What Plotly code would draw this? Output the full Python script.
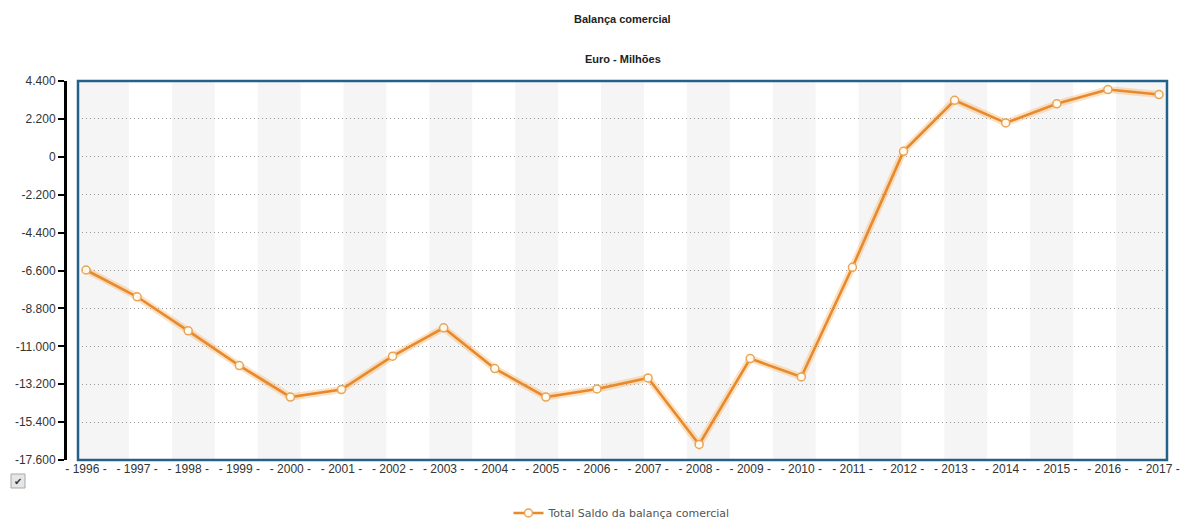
import plotly.graph_objects as go

# Trade balance, EUR millions
years = list(range(1996, 2018))
saldo = [-6571, -8125, -10103, -12120, -13945, -13514, -11576, -9929, -12292,
         -13945, -13479, -12839, -16698, -11710, -12781, -6414, 315, 3283,
         1967, 3073, 3905, 3614]

y_ticks = [4400, 2200, 0, -2200, -4400, -6600, -8800, -11000, -13200, -15400, -17600]
y_ticktext = ["4.400", "2.200", "0", "-2.200", "-4.400", "-6.600", "-8.800",
              "-11.000", "-13.200", "-15.400", "-17.600"]
x_ticktext = [f"- {y} -" for y in years]

title_main = "Balança comercial"
title_sub = "Euro - Milhões"
series_name = "Total Saldo da balança comercial"

W, H = 1183, 519
M_L, M_R, M_T, M_B = 65, 16, 81, 59
pad = 0.157  # category padding inside the frame
x_lo, x_hi = years[0] - pad, years[-1] + pad

fig = go.Figure()

# soft halo under the line
fig.add_trace(go.Scatter(
    x=years, y=saldo, mode="lines",
    line=dict(color="rgba(245,170,80,0.35)", width=7),
    hoverinfo="skip", showlegend=False,
))
fig.add_trace(go.Scatter(
    x=years, y=saldo, mode="lines+markers", name=series_name,
    line=dict(color="#e8892b", width=2.6),
    marker=dict(symbol="circle", size=8, color="#fffbf0",
                line=dict(color="#e9a455", width=1.5)),
))

# alternating vertical bands behind the plot
shapes = []
n_bands = 25
bw = (years[-1] - years[0]) / n_bands
for k in range(0, n_bands, 2):
    x0 = years[0] + k * bw
    x1 = x0 + bw
    if k == 0:
        x0 = x_lo
    if k == n_bands - 1:
        x1 = x_hi
    shapes.append(dict(type="rect", xref="x", yref="y domain", x0=x0, x1=x1,
                       y0=0, y1=1, fillcolor="#f5f5f6", line=dict(width=0),
                       layer="below"))

# plot frame
shapes.append(dict(type="rect", xref="x domain", yref="y domain", x0=0, x1=1,
                   y0=0, y1=1, line=dict(color="#21618a", width=2.5),
                   fillcolor="rgba(0,0,0,0)", layer="above"))

pw = W - M_L - M_R
ph = H - M_T - M_B
def px_x(px):
    return (px - M_L) / pw
def px_y(py):
    return (H - M_B - py) / ph

# checkbox at lower left
shapes.append(dict(type="rect", xref="paper", yref="paper",
                   x0=px_x(11), x1=px_x(25), y0=px_y(488), y1=px_y(474),
                   fillcolor="#e6e6e6", line=dict(color="#a8a8a8", width=1)))

annotations = [
    dict(text=f"<b>{title_main}</b>", xref="paper", yref="paper",
         x=px_x(622.5), y=px_y(19), xanchor="center", yanchor="middle",
         showarrow=False, font=dict(family="Arial", size=11, color="#222")),
    dict(text=f"<b>{title_sub}</b>", xref="paper", yref="paper",
         x=px_x(622.5), y=px_y(59), xanchor="center", yanchor="middle",
         showarrow=False, font=dict(family="Arial", size=11, color="#222")),
    dict(text="✔", xref="paper", yref="paper",
         x=px_x(18), y=px_y(481), xanchor="center", yanchor="middle",
         showarrow=False, font=dict(family="DejaVu Sans", size=10, color="#333")),
]

fig.update_layout(
    width=W, height=H, autosize=False,
    margin=dict(l=M_L, r=M_R, t=M_T, b=M_B, autoexpand=False),
    paper_bgcolor="white", plot_bgcolor="white",
    shapes=shapes, annotations=annotations,
    xaxis=dict(
        domain=[13 / pw, 1], range=[x_lo, x_hi],
        tickmode="array", tickvals=years, ticktext=x_ticktext,
        showgrid=False, zeroline=False, showline=False, ticks="",
        tickfont=dict(family="Arial", size=12, color="#333"),
    ),
    yaxis=dict(
        anchor="free", position=0, range=[-17600, 4400],
        tickmode="array", tickvals=y_ticks, ticktext=y_ticktext,
        showgrid=True, gridcolor="#9a9a9a", griddash="1px,3px", gridwidth=1,
        zeroline=False, showline=True, linecolor="black", linewidth=3,
        ticks="outside", ticklen=6, tickwidth=2, tickcolor="black",
        tickfont=dict(family="Arial", size=12, color="#333"),
    ),
    legend=dict(orientation="h", x=px_x(622), y=px_y(513), xanchor="center",
                yanchor="middle", bgcolor="rgba(0,0,0,0)", itemwidth=30,
                font=dict(family="DejaVu Sans", size=11, color="#555")),
    showlegend=True,
)

fig.write_html("out.html")
